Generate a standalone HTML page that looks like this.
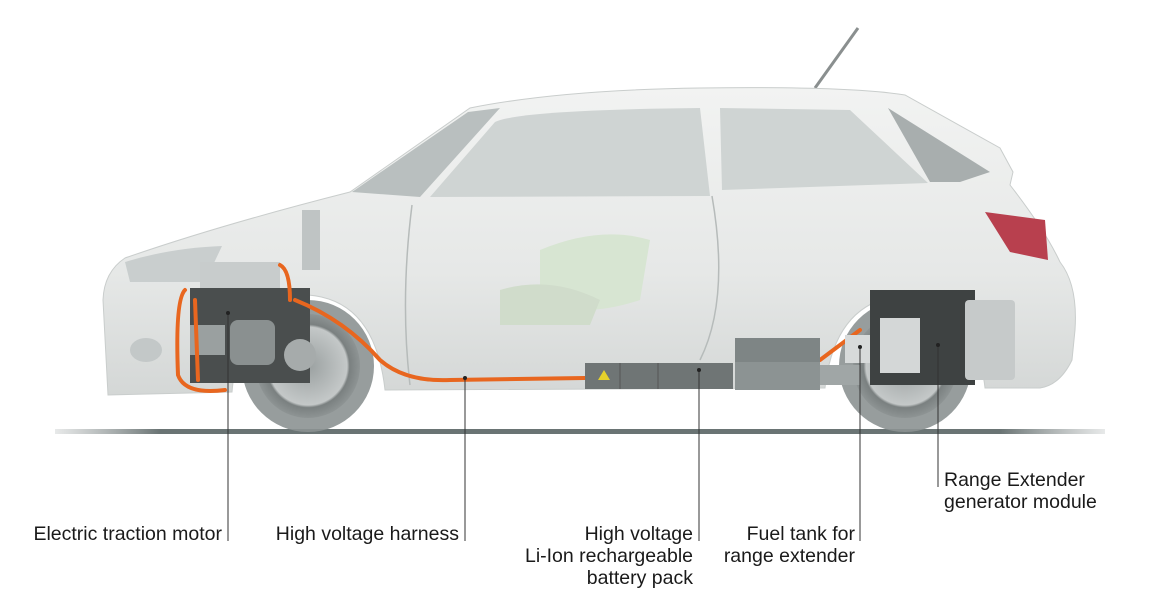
<!DOCTYPE html>
<html><head><meta charset="utf-8"><style>
html,body{margin:0;padding:0;background:#fff;}
svg{display:block}
text{font-family:"Liberation Sans Narrow","Liberation Sans",sans-serif;font-size:19.5px;fill:#1a1a1a}
</style></head><body>
<svg width="1176" height="615" viewBox="0 0 1176 615" xmlns="http://www.w3.org/2000/svg">
<defs>
<linearGradient id="body" x1="0" y1="0" x2="0" y2="1">
<stop offset="0" stop-color="#f2f3f2"/><stop offset="0.6" stop-color="#e6e8e7"/><stop offset="1" stop-color="#d4d7d6"/></linearGradient>
<radialGradient id="rim" cx="0.5" cy="0.5" r="0.5">
<stop offset="0" stop-color="#9aa0a0"/><stop offset="0.75" stop-color="#c4c8c8"/><stop offset="0.8" stop-color="#7a8080"/><stop offset="1" stop-color="#8e9494"/></radialGradient>
<linearGradient id="ground" x1="0" y1="0" x2="1" y2="0">
<stop offset="0" stop-color="#8a9292" stop-opacity="0.2"/><stop offset="0.1" stop-color="#6a7474"/><stop offset="0.9" stop-color="#6a7474"/><stop offset="1" stop-color="#8a9292" stop-opacity="0.2"/></linearGradient>
</defs>
<line x1="815" y1="88" x2="858" y2="28" stroke="#8a8f8f" stroke-width="3"/>
<rect x="55" y="429" width="1050" height="5" fill="url(#ground)"/>
<path d="M108,395 L103,300 Q104,272 125,258 Q220,225 350,192 L470,108 Q560,90 700,88 Q850,86 905,95 L1000,148 L1013,172 L1010,185 Q1045,230 1060,262 Q1078,285 1075,330 L1072,360 Q1060,385 1040,388 L985,388 Q975,300 905,295 Q835,300 825,388 L385,390 Q375,300 308,295 Q240,300 232,392 Z" fill="url(#body)" stroke="#c9cdcc" stroke-width="1"/>
<circle cx="308" cy="366" r="66" fill="#8c9292" opacity="0.9"/>
<circle cx="308" cy="366" r="52" fill="url(#rim)"/>
<circle cx="905" cy="366" r="66" fill="#8c9292" opacity="0.9"/>
<circle cx="905" cy="366" r="52" fill="url(#rim)"/>
<path d="M352,192 L468,112 L500,108 L420,197 Z" fill="#b9bfbf"/>
<path d="M430,197 L495,122 Q520,110 700,108 L710,196 Z" fill="#cfd4d3"/>
<path d="M720,108 L850,110 L928,183 L722,190 Z" fill="#cfd4d3"/>
<path d="M888,108 L990,172 L960,182 L930,182 Z" fill="#a8aeae"/>
<path d="M412,205 Q400,300 410,385 M712,196 Q730,300 700,360" stroke="#b6bbba" fill="none" stroke-width="1.5"/>
<path d="M540,250 Q600,225 650,240 L640,300 Q580,320 540,300 Z" fill="#d7e5d2"/>
<path d="M500,290 Q550,275 600,300 L590,325 L500,325 Z" fill="#d0dccb"/>
<path d="M985,212 L1045,220 L1048,260 L1010,252 Z" fill="#b8404e"/>
<path d="M125,262 Q170,248 222,246 L205,282 L130,282 Z" fill="#c9cece"/>
<ellipse cx="146" cy="350" rx="16" ry="12" fill="#c3c8c8"/>
<rect x="302" y="210" width="18" height="60" fill="#bfc4c4"/>
<rect x="200" y="262" width="80" height="30" fill="#c8cccc"/>
<rect x="190" y="288" width="120" height="95" fill="#4a4e4e"/>
<rect x="230" y="320" width="45" height="45" rx="8" fill="#8a9090"/>
<rect x="190" y="325" width="35" height="30" fill="#9aa0a0"/>
<circle cx="300" cy="355" r="16" fill="#a6abab"/>
<g stroke="#e8661f" stroke-width="4" fill="none" stroke-linecap="round">
<path d="M185,290 Q175,300 178,375 Q185,395 225,390"/>
<path d="M195,300 L198,380"/>
<path d="M280,265 Q290,270 290,300"/>
<path d="M295,300 Q345,320 380,360 Q405,382 450,380 L585,378"/>
<path d="M820,360 Q840,345 860,330"/>
<path d="M878,300 L878,320 M888,295 L888,320 M898,298 L898,320"/>
</g>
<rect x="585" y="363" width="148" height="26" fill="#6f7575"/>
<path d="M598,380 L604,370 L610,380 Z" fill="#e6d12a"/>
<line x1="620" y1="363" x2="620" y2="389" stroke="#555"/><line x1="658" y1="363" x2="658" y2="389" stroke="#555"/>
<rect x="735" y="338" width="85" height="52" fill="#8c9393"/>
<rect x="735" y="338" width="85" height="24" fill="#7e8585"/>
<rect x="820" y="365" width="40" height="20" fill="#a0a6a6"/>
<rect x="845" y="335" width="30" height="28" fill="#d7dada"/>
<rect x="870" y="290" width="105" height="95" fill="#3e4242"/>
<rect x="880" y="318" width="40" height="55" fill="#d4d7d7"/>
<rect x="965" y="300" width="50" height="80" rx="4" fill="#c6caca"/>
<g stroke="#333" stroke-width="1">
<line x1="228" y1="313" x2="228" y2="541"/>
<line x1="465" y1="378" x2="465" y2="541"/>
<line x1="699" y1="370" x2="699" y2="541"/>
<line x1="860" y1="347" x2="860" y2="541"/>
<line x1="938" y1="345" x2="938" y2="487"/>
</g>
<g fill="#222">
<circle cx="228" cy="313" r="2"/><circle cx="465" cy="378" r="2"/><circle cx="699" cy="370" r="2"/><circle cx="860" cy="347" r="2"/><circle cx="938" cy="345" r="2"/>
</g>
<text x="222" y="540" text-anchor="end">Electric traction motor</text>
<text x="459" y="540" text-anchor="end">High voltage harness</text>
<text x="693" y="540" text-anchor="end">High voltage</text>
<text x="693" y="562" text-anchor="end">Li-Ion rechargeable</text>
<text x="693" y="584" text-anchor="end">battery pack</text>
<text x="855" y="540" text-anchor="end">Fuel tank for</text>
<text x="855" y="562" text-anchor="end">range extender</text>
<text x="944" y="486">Range Extender</text>
<text x="944" y="508">generator module</text>
</svg>
</body></html>
